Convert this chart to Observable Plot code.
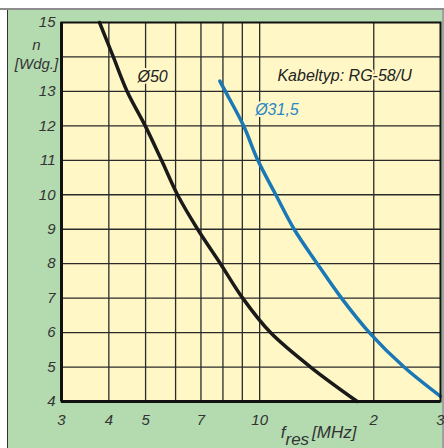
<!DOCTYPE html>
<html><head><meta charset="utf-8">
<script src="https://cdn.jsdelivr.net/npm/d3@7"></script>
<script src="https://cdn.jsdelivr.net/npm/@observablehq/plot@0.6"></script>
<style>
html,body{margin:0;padding:0;background:#fff;}
#wrap{position:relative;width:444px;height:448px;overflow:hidden;}
#bg{position:absolute;left:7px;top:9px;right:0;bottom:0;box-sizing:border-box;background:#b4dbb0;border-left:1.5px solid #333;border-right:2px solid #a0a0a0;}
#topline{position:absolute;left:0;top:8px;width:444px;height:2px;background:#8c8c8c;}
#chart{position:absolute;left:0;top:0;}
</style></head><body>
<div id="wrap"><div id="bg"></div><div id="topline"></div><div id="chart"></div></div>
<script>
// Curve Ø50 (black): frequency [MHz] vs windings
const blackF = [3.78, 4.11, 4.47, 4.99, 5.51, 6.07, 6.86, 7.88, 9.02, 10.68, 13.62, 18.09];
const blackN = [15, 14, 13, 12, 11, 10, 9, 8, 7, 6, 5, 4];
// Curve Ø31,5 (blue)
const blueF = [7.85, 8.12, 9.07, 9.89, 11.03, 12.33, 14.19, 16.44, 19.47, 24.04, 30];
const blueN = [13.3, 13, 12, 11, 10, 9, 8, 7, 6, 5, 4.15];

const gridX = [4, 5, 6, 7, 8, 9, 10, 20];
const gridY = [5, 6, 7, 8, 9, 10, 11, 12, 13, 14];
const xTicks = [3, 4, 5, 7, 10, 20, 30];
const xTickLabels = ["3", "4", "5", "7", "10", "2", "3"];
const yTicks = [4, 5, 6, 7, 8, 9, 10, 11, 12, 13, 15];

const labels = [
  {text: "\u00D850", f: 4.76, n: 13.43, color: "#222"},
  {text: "Kabeltyp: RG-58/U", f: 11.14, n: 13.46, color: "#222"},
  {text: "\u00D831,5", f: 9.73, n: 12.45, color: "#2a86c4"}
];
const yLabel = [
  {text: "n", n: 14.33},
  {text: "[Wdg.]", n: 13.8}
];

const black = blackF.map((f, i) => ({f, n: blackN[i]}));
const blue = blueF.map((f, i) => ({f, n: blueN[i]}));
const font = "'Liberation Sans', Arial, Helvetica, sans-serif";

const plot = Plot.plot({
  width: 444, height: 448,
  marginLeft: 61, marginRight: 4, marginTop: 22, marginBottom: 47,
  style: {background: "transparent", fontFamily: font, fontStyle: "italic", fontSize: "15px", color: "#333", overflow: "visible"},
  x: {type: "log", domain: [3, 30], ticks: xTicks, tickFormat: d => xTickLabels[xTicks.indexOf(d)], tickSize: 0, tickPadding: 13, label: null},
  y: {domain: [4, 15], ticks: yTicks, tickSize: 0, tickPadding: 6, label: null},
  marks: [
    Plot.frame({fill: "#fff8c6"}),
    Plot.ruleX(gridX, {stroke: "#2a2a2a", strokeWidth: 1.3}),
    Plot.ruleY(gridY, {stroke: "#2a2a2a", strokeWidth: 1.3}),
    Plot.line(black, {x: "f", y: "n", stroke: "#1a1a1a", strokeWidth: 3.5, curve: "catmull-rom"}),
    Plot.line(blue, {x: "f", y: "n", stroke: "#1a78b6", strokeWidth: 3.5, curve: "catmull-rom"}),
    Plot.frame({stroke: "#111", strokeWidth: 2}),
    Plot.ruleX([3], {stroke: "#111", strokeWidth: 3}),
    Plot.ruleY([4], {stroke: "#111", strokeWidth: 3}),
    Plot.text(labels, {x: "f", y: "n", text: "text", fill: "color", textAnchor: "start", stroke: "#fff8c6", strokeWidth: 4, fontSize: 16}),
    Plot.text(yLabel, {x: () => 3, y: "n", text: "text", dx: -25, textAnchor: "middle", fill: "#333", fontSize: 15})
  ]
});
document.getElementById("chart").appendChild(plot);

// x-axis title with subscript
const sx = plot.scale("x");
const svg = d3.select(plot.tagName.toLowerCase() === "svg" ? plot : plot.querySelector("svg"));
const t = svg.append("text")
  .attr("x", sx.apply(11.4)).attr("y", 438)
  .attr("text-anchor", "start")
  .attr("font-family", font).attr("font-style", "italic").attr("font-size", 17).attr("fill", "#333");
t.append("tspan").text("f");
t.append("tspan").attr("dy", 7).text("res");
t.append("tspan").attr("dy", -7).attr("dx", 3).text("[MHz]");
</script>
</body></html>
